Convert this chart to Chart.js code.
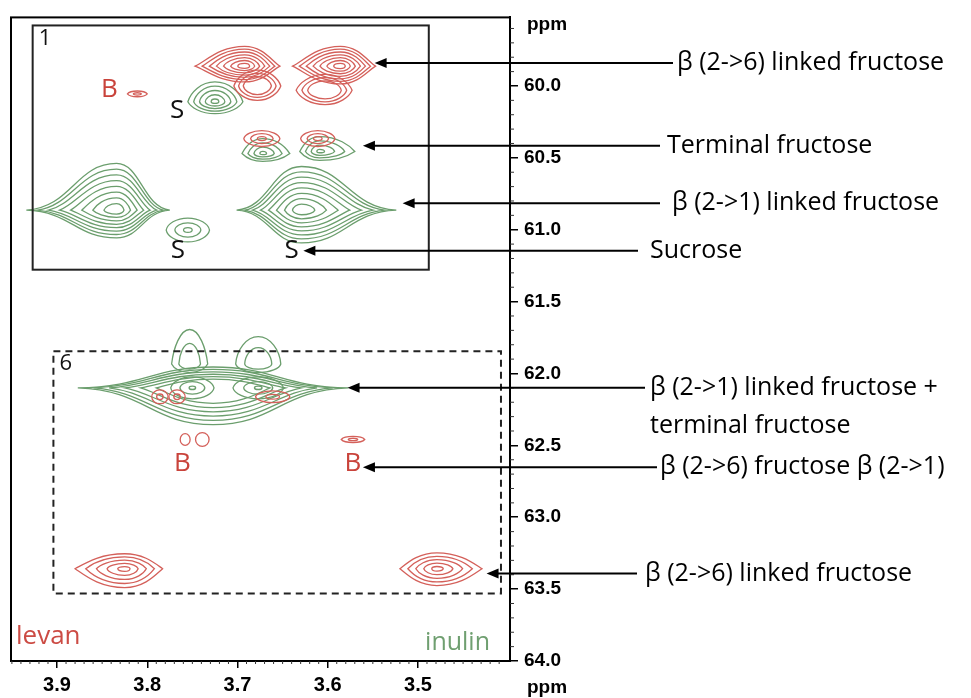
<!DOCTYPE html>
<html>
<head>
<title>HSQC overlay levan / inulin</title>
<script src="https://cdn.jsdelivr.net/npm/chart.js"></script>
<style>body{margin:0;background:#fff}</style>
</head>
<body>
<canvas id="nmr" width="971" height="698"></canvas>
<script>
// axis ticks (ppm)
const xTicks = [3.9, 3.8, 3.7, 3.6, 3.5];
const yTicks = [60.0, 60.5, 61.0, 61.5, 62.0, 62.5, 63.0, 63.5, 64.0];

// peaks: [1H ppm, 13C ppm, half-width left, half-width right, half-height up, half-height down, levels, tail, innermost fraction]
const levanPeaks = [
  [3.692, 59.862, 0.055, 0.039, 0.138, 0.110, 7, 0.5, 0.14],
  [3.678, 60.000, 0.026, 0.026, 0.110, 0.100, 3, 0.2, 0.6],
  [3.586, 59.862, 0.053, 0.039, 0.138, 0.124, 7, 0.5, 0.14],
  [3.603, 60.030, 0.032, 0.030, 0.110, 0.100, 3, 0.2, 0.6],
  [3.811, 60.055, 0.011, 0.011, 0.020, 0.020, 2, 0.2, 0.4],
  [3.673, 60.366, 0.020, 0.020, 0.055, 0.055, 3, 0.1, 0.25],
  [3.611, 60.366, 0.019, 0.019, 0.055, 0.055, 3, 0.1, 0.25],
  [3.786, 62.162, 0.009, 0.009, 0.048, 0.048, 2, 0, 0.4],
  [3.767, 62.162, 0.009, 0.009, 0.048, 0.048, 2, 0, 0.4],
  [3.661, 62.162, 0.019, 0.019, 0.041, 0.041, 2, 0.1, 0.4],
  [3.758, 62.459, 0.0055, 0.0055, 0.041, 0.041, 1, 0, 1],
  [3.739, 62.459, 0.0075, 0.0075, 0.048, 0.048, 1, 0, 1],
  [3.572, 62.459, 0.013, 0.013, 0.021, 0.021, 2, 0.2, 0.4],
  [3.825, 63.358, 0.055, 0.042, 0.104, 0.131, 5, 0.4, 0.14],
  [3.479, 63.358, 0.041, 0.050, 0.110, 0.117, 5, 0.4, 0.14]
];
const inulinPeaks = [
  [3.725, 60.110, 0.030, 0.031, 0.138, 0.083, 5, 0.2, 0.14],
  [3.672, 60.470, 0.023, 0.030, 0.104, 0.055, 4, 0.3, 0.14],
  [3.609, 60.456, 0.022, 0.039, 0.104, 0.062, 4, 0.3, 0.14],
  [3.834, 60.864, 0.100, 0.059, 0.325, 0.193, 8, 1, 0.14],
  [3.755, 61.002, 0.024, 0.024, 0.083, 0.083, 3, 0.1, 0.2],
  [3.629, 60.864, 0.072, 0.105, 0.304, 0.228, 8, 1, 0.14],
  [3.727, 62.100, 0.150, 0.150, 0.145, 0.256, 6, 1, 0.42],
  [3.750, 62.100, 0.024, 0.024, 0.076, 0.076, 3, 0.1, 0.15],
  [3.677, 62.100, 0.028, 0.028, 0.076, 0.076, 3, 0.1, 0.15],
  [3.753, 61.934, 0.020, 0.020, 0.240, 0.060, 2, 0.2, 0.6],
  [3.677, 61.934, 0.025, 0.025, 0.190, 0.060, 2, 0.1, 0.6]
];

// peak letters (B = levan branch, S = sucrose)
const peakTags = ['B', 'S', 'S', 'S', 'B', 'B'];
const peakTagX = [3.842, 3.767, 3.766, 3.640, 3.761, 3.572];
const peakTagY = [60.028, 60.173, 61.147, 61.147, 62.625, 62.625];

// region boxes [x1, y1, x2, y2] in ppm
const boxNames = ['1', '6'];
const boxRegions = [[3.927, 59.579, 3.488, 61.278], [3.904, 61.845, 3.408, 63.530]];

// assignments with arrow tips (ppm)
const assignLabels = [
  'β (2->6) linked fructose',
  'Terminal fructose',
  'β (2->1) linked fructose',
  'Sucrose',
  'β (2->1) linked fructose +|terminal fructose',
  'β (2->6) fructose β (2->1)',
  'β (2->6) linked fructose'
];
const assignTipX = [3.548, 3.561, 3.517, 3.627, 3.578, 3.561, 3.424];
const assignTipY = [59.841, 60.415, 60.815, 61.147, 62.100, 62.653, 63.392];

const RED = '#d4605a', GREEN = '#6b9e6d';
const lineEndX = [673, 660, 660, 638, 645, 657, 637];
const textX = [677, 667, 672, 650, 650, 660, 645];

function quad(tx, ty, ex, ey, t) {
  const a = ex - tx, b = ey - ty;
  const e1 = [tx, ty + 0.552 * b], e2 = [ex - 0.552 * a, ey];
  const p1 = [tx + 0.5 * a, ty + 0.06 * b], p2 = [ex - 0.45 * a, ey];
  return [
    [e1[0] + (p1[0] - e1[0]) * t, e1[1] + (p1[1] - e1[1]) * t],
    [e2[0] + (p2[0] - e2[0]) * t, e2[1] + (p2[1] - e2[1]) * t]
  ];
}

function drawPeak(ctx, xs, ys, p) {
  const [cx, cy, rl, rr, rt, rb, n, tail, inner] = p;
  for (let k = 0; k < n; k++) {
    const s = n === 1 ? 1 : 1 - k * (1 - inner) / (n - 1);
    const t = tail * s;
    const X = xs.getPixelForValue(cx), Y = ys.getPixelForValue(cy);
    const L = xs.getPixelForValue(cx + rl * s), R = xs.getPixelForValue(cx - rr * s);
    const T = ys.getPixelForValue(cy - rt * s), B = ys.getPixelForValue(cy + rb * s);
    ctx.beginPath();
    ctx.moveTo(L, Y);
    let q = quad(L, Y, X, T, t);
    ctx.bezierCurveTo(q[0][0], q[0][1], q[1][0], q[1][1], X, T);
    q = quad(R, Y, X, T, t);
    ctx.bezierCurveTo(q[1][0], q[1][1], q[0][0], q[0][1], R, Y);
    q = quad(R, Y, X, B, t);
    ctx.bezierCurveTo(q[0][0], q[0][1], q[1][0], q[1][1], X, B);
    q = quad(L, Y, X, B, t);
    ctx.bezierCurveTo(q[1][0], q[1][1], q[0][0], q[0][1], L, Y);
    ctx.closePath();
    ctx.stroke();
  }
}

const spectrumPlugin = {
  id: 'spectrum',
  afterDatasetsDraw(chart) {
    const ctx = chart.ctx, xs = chart.scales.x, ys = chart.scales.y, a = chart.chartArea;
    ctx.save();
    ctx.lineWidth = 1.3;
    ctx.strokeStyle = GREEN;
    inulinPeaks.forEach(p => drawPeak(ctx, xs, ys, p));
    ctx.strokeStyle = RED;
    levanPeaks.forEach(p => drawPeak(ctx, xs, ys, p));

    // region boxes
    ctx.strokeStyle = '#222';
    ctx.lineWidth = 2;
    boxRegions.forEach((r, i) => {
      const x1 = xs.getPixelForValue(r[0]), y1 = ys.getPixelForValue(r[1]);
      const x2 = xs.getPixelForValue(r[2]), y2 = ys.getPixelForValue(r[3]);
      ctx.setLineDash(i === 1 ? [7, 5] : []);
      ctx.strokeRect(x1, y1, x2 - x1, y2 - y1);
      ctx.setLineDash([]);
      ctx.fillStyle = '#111';
      ctx.font = '22px "Open Sans"';
      ctx.textAlign = 'left';
      ctx.textBaseline = 'top';
      ctx.fillText(boxNames[i], x1 + 6, y1 + 2);
    });

    // B / S tags
    ctx.font = '26px "Open Sans"';
    ctx.textAlign = 'center';
    ctx.textBaseline = 'middle';
    peakTags.forEach((tag, i) => {
      ctx.fillStyle = tag === 'B' ? '#c9433b' : '#111';
      ctx.fillText(tag, xs.getPixelForValue(peakTagX[i]), ys.getPixelForValue(peakTagY[i]));
    });

    // sample names
    ctx.font = '26px "Open Sans"';
    ctx.textAlign = 'left';
    ctx.fillStyle = '#cc4b44';
    ctx.fillText('levan', a.left + 5, a.bottom - 24);
    ctx.textAlign = 'right';
    ctx.font = '25px "Open Sans"';
    ctx.fillStyle = '#6f9f70';
    ctx.fillText('inulin', a.right - 20, a.bottom - 18);

    // frame
    ctx.strokeStyle = '#000';
    ctx.lineWidth = 2;
    ctx.strokeRect(a.left, a.top, a.right - a.left, a.bottom - a.top);

    // minor ticks
    ctx.lineWidth = 1;
    ctx.strokeStyle = '#333';
    ctx.beginPath();
    for (let i = 340; i <= 395; i++) {
      if (i % 10 === 0) continue;
      const px = xs.getPixelForValue(i / 100);
      ctx.moveTo(px, a.bottom);
      ctx.lineTo(px, a.bottom + 3);
    }
    for (let i = 596; i <= 640; i++) {
      if (i % 5 === 0) continue;
      const py = ys.getPixelForValue(i / 10);
      ctx.moveTo(a.right, py);
      ctx.lineTo(a.right + 4, py);
    }
    ctx.stroke();

    // axis titles
    ctx.fillStyle = '#000';
    ctx.font = 'bold 19px "Liberation Sans"';
    ctx.textAlign = 'left';
    ctx.textBaseline = 'middle';
    ctx.fillText('ppm', 527, 25);
    ctx.fillText('ppm', 527, 688);

    // assignment arrows
    ctx.lineWidth = 2;
    ctx.strokeStyle = '#000';
    ctx.font = '25px "Open Sans"';
    assignLabels.forEach((lab, i) => {
      const tx = xs.getPixelForValue(assignTipX[i]), ty = ys.getPixelForValue(assignTipY[i]);
      ctx.beginPath();
      ctx.moveTo(tx + 8, ty);
      ctx.lineTo(lineEndX[i], ty);
      ctx.stroke();
      ctx.beginPath();
      ctx.moveTo(tx, ty);
      ctx.lineTo(tx + 12, ty - 5);
      ctx.lineTo(tx + 12, ty + 5);
      ctx.closePath();
      ctx.fill();
      lab.split('|').forEach((line, j) => ctx.fillText(line, textX[i], ty + j * 38));
    });
    ctx.restore();
  }
};

const tickFontX = { family: '"Liberation Sans", Arial', size: 20, weight: 'bold' };
const tickFontY = { family: '"Liberation Sans", Arial', size: 19, weight: 'bold' };

new Chart(document.getElementById('nmr'), {
  type: 'scatter',
  data: {
    datasets: [
      { label: 'levan', data: levanPeaks.map(p => ({ x: p[0], y: p[1] })), pointRadius: 0, borderColor: RED },
      { label: 'inulin', data: inulinPeaks.map(p => ({ x: p[0], y: p[1] })), pointRadius: 0, borderColor: GREEN }
    ]
  },
  options: {
    responsive: false,
    animation: false,
    layout: { padding: { left: 11, top: 13, right: 401, bottom: 0 } },
    plugins: { legend: { display: false }, tooltip: { enabled: false } },
    scales: {
      x: {
        type: 'linear', reverse: true, min: 3.398, max: 3.951,
        afterBuildTicks: s => { s.ticks = xTicks.map(v => ({ value: v })); },
        afterFit: s => { s.height = 37; },
        ticks: { callback: v => v.toFixed(1), font: tickFontX, color: '#000', padding: 5, maxRotation: 0, autoSkip: false },
        grid: { drawOnChartArea: false, tickLength: 7, color: '#000', lineWidth: 1.5 },
        border: { color: '#000', width: 2 }
      },
      y: {
        type: 'linear', position: 'right', reverse: true, min: 59.523, max: 64.0,
        afterBuildTicks: s => { s.ticks = yTicks.map(v => ({ value: v })); },
        afterFit: s => { s.width = 60; },
        ticks: { callback: v => v.toFixed(1), font: tickFontY, color: '#000', padding: 6, autoSkip: false },
        grid: { drawOnChartArea: false, tickLength: 8, color: '#000', lineWidth: 1.5 },
        border: { color: '#000', width: 2 }
      }
    }
  },
  plugins: [spectrumPlugin]
});
</script>
</body>
</html>
